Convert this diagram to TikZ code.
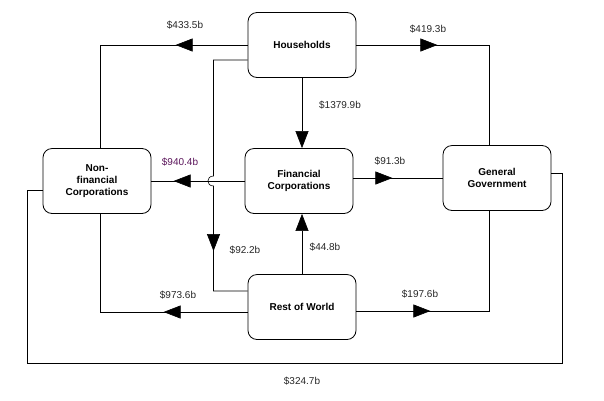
\documentclass[tikz,border=0pt]{standalone}
\usepackage{fontspec}
\setmainfont{Liberation Sans}
\usetikzlibrary{arrows.meta,decorations.markings}
\definecolor{plum}{RGB}{90,20,90}

\tikzset{
  sector/.style={draw, rounded corners=9pt, minimum width=108pt, minimum height=65pt,
    align=center, font=\fontsize{10}{12}\selectfont\bfseries, thick},
  flow/.style={decoration={markings, mark=at position #1 with
    {\arrow{Triangle[length=17pt,width=13pt]}}}, postaction=decorate},
  amount/.style={font=\fontsize{10}{12}\selectfont, text=black!85}
}

\begin{document}
\begin{tikzpicture}[x=1pt, y=-1pt, semithick]
	\useasboundingbox (0,0) rectangle (604,400);
	% sectors
	\node[sector] (hh) at (302,45) {Households};
	\node[sector] (fc) at (299,181) {Financial\\Corporations};
	\node[sector] (rw) at (302,307) {Rest of World};
	\node[sector] (nfc) at (97,181) {Non-\\financial\\Corporations};
	\node[sector] (gg) at (497,178) {General\\Government};

	% flows
	\draw[flow=72pt] (hh.west) -- (100,45) -- (100,148);
	\draw[flow=81pt] (hh.east) -- (489,45) -- (gg.north -| 489,0);
	\draw[-{Triangle[length=17pt,width=13pt]}] (hh.south) -- (fc.north -| hh.south);
	\draw[flow=232pt] (hh.west |- 0,60) -- (213.5,60) -- (213.5,176)
		.. controls (206,176) and (206,186) .. (213.5,186) -- (213.5,291) -- (rw.west |- 0,291);
	\draw[flow=71pt] (fc.west) -- (nfc.east);
	\draw[flow=39pt] (fc.east |- 0,178) -- (gg.west);
	\draw[-{Triangle[length=17pt,width=13pt]}] (rw.north) -- (fc.south -| rw.north);
	\draw[flow=84pt] (rw.west |- 0,312) -- (100,312) -- (nfc.south -| 100,0);
	\draw[flow=74pt] (rw.east |- 0,311) -- (489,311) -- (gg.south -| 489,0);
	\draw (gg.east |- 0,173) -- (562,173) -- (562,363) -- (27,363) -- (27,190) -- (nfc.west |- 0,190);

	% amounts
	\node[amount] (a1) at (185,25) {\$433.5b};
	\node[amount] (a2) at (428,29) {\$419.3b};
	\node[amount] (a3) at (340,105) {\$1379.9b};
	\node[amount] (a4) at (245,250) {\$92.2b};
	\node[amount, text=plum] (a5) at (180,162) {\$940.4b};
	\node[amount] (a6) at (390,161) {\$91.3b};
	\node[amount] (a7) at (325,247) {\$44.8b};
	\node[amount] (a8) at (178,295) {\$973.6b};
	\node[amount] (a9) at (420,294) {\$197.6b};
	\node[amount] (a10) at (302,381) {\$324.7b};
\end{tikzpicture}
\end{document}
